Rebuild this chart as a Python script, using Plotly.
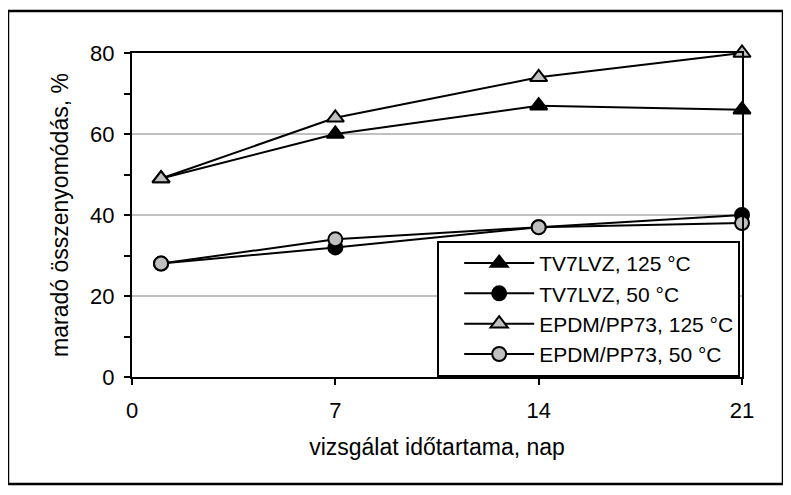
import plotly.graph_objects as go

days = [1, 7, 14, 21]
tv7lvz_125 = [49, 60, 67, 66]
tv7lvz_50 = [28, 32, 37, 40]
epdm_125 = [49, 64, 74, 80]
epdm_50 = [28, 34, 37, 38]

series_names = ["TV7LVZ, 125 °C", "TV7LVZ, 50 °C", "EPDM/PP73, 125 °C", "EPDM/PP73, 50 °C"]
x_ticks = [0, 7, 14, 21]
y_ticks = [0, 20, 40, 60, 80]

FONT = "Liberation Sans, Arial, sans-serif"

fig = go.Figure()
specs = [
    (tv7lvz_125, "triangle-up", "black", 15),
    (tv7lvz_50, "circle", "black", 14),
    (epdm_125, "triangle-up", "#c0c0c0", 15),
    (epdm_50, "circle", "#c0c0c0", 14),
]
for name, (vals, sym, fill, size) in zip(series_names, specs):
    fig.add_trace(go.Scatter(
        x=days, y=vals, name=name, mode="lines+markers",
        line=dict(color="black", width=2),
        marker=dict(symbol=sym, size=size, color=fill, line=dict(color="black", width=2)),
        cliponaxis=False,
    ))

fig.update_layout(
    width=791, height=495,
    margin=dict(l=124, r=57, t=45, b=126),
    paper_bgcolor="white", plot_bgcolor="white",
    font=dict(family=FONT, size=22, color="black"),
    showlegend=True,
    legend=dict(
        x=0.997, y=0.42, xanchor="right", yanchor="top",
        bgcolor="white", bordercolor="black", borderwidth=2,
        font=dict(family=FONT, size=21, color="black"),
        itemwidth=70, tracegroupgap=0, indentation=20,
    ),
    xaxis=dict(
        range=[0, 21], tickmode="array", tickvals=x_ticks, ticktext=[str(v) for v in x_ticks],
        ticks="outside", ticklen=6, tickwidth=2, tickcolor="black",
        showline=True, linecolor="black", linewidth=2, mirror=True,
        showgrid=False, zeroline=False, ticklabelstandoff=7,
        title=dict(text="vizsgálat időtartama, nap", standoff=16, font=dict(size=23)),
    ),
    yaxis=dict(
        range=[0, 80], tickmode="array", tickvals=y_ticks, ticktext=[str(v) for v in y_ticks],
        ticks="outside", ticklen=6, tickwidth=2, tickcolor="black",
        minor=dict(ticks="outside", ticklen=6, tickwidth=2, tickcolor="black", tick0=0, dtick=10, showgrid=False),
        showline=True, linecolor="black", linewidth=2, mirror=True,
        showgrid=True, gridcolor="#c0c0c0", gridwidth=2, zeroline=False, ticklabelstandoff=5,
        title=dict(text="maradó összenyomódás, %", standoff=15, font=dict(size=23)),
    ),
)

fig.add_shape(type="rect", xref="paper", yref="paper",
              x0=-0.2033, x1=1.0672, y0=-0.330, y1=1.1296,
              line=dict(color="black", width=2.5), layer="below")

fig.write_html("out.html")
